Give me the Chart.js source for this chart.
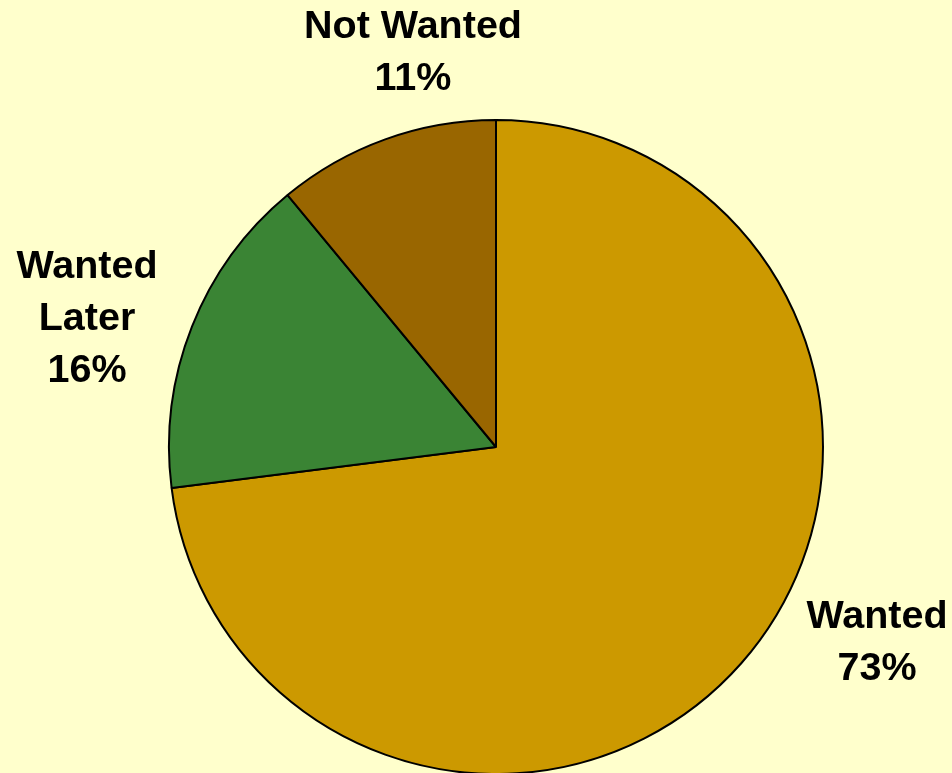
<!DOCTYPE html>
<html>
<head>
<meta charset="utf-8">
<script src="https://cdn.jsdelivr.net/npm/chart.js@4.4.1/dist/chart.umd.min.js"></script>
<style>
  html, body { margin: 0; padding: 0; background: #FFFFCC; }
  #wrap { width: 952px; height: 773px; position: relative; }
</style>
</head>
<body>
<div id="wrap"><canvas id="pieChart"></canvas></div>
<script>
  // dados da pizza (em %)
  const categories = ['Wanted', 'Wanted Later', 'Not Wanted'];
  const labelLines = [['Wanted'], ['Wanted', 'Later'], ['Not Wanted']];
  const shares = [73, 16, 11];
  const sliceColors = ['#CC9900', '#3A8434', '#996600'];

  // onde fica cada rotulo, relativo ao centro da pizza
  const labelOffsets = [[381, 193], [-409, -131], [-83, -397]];

  const outsideLabels = {
    id: 'outsideLabels',
    afterDraw(chart) {
      const ctx = chart.ctx;
      const meta = chart.getDatasetMeta(0);
      const size = 39.5, lineH = 52;
      ctx.save();
      ctx.font = 'bold ' + size + 'px "Liberation Sans", Arial, sans-serif';
      ctx.fillStyle = '#000';
      ctx.textAlign = 'center';
      ctx.textBaseline = 'alphabetic';
      meta.data.forEach((arc, i) => {
        const lines = labelLines[i].concat([shares[i] + '%']);
        const cx = arc.x + labelOffsets[i][0];
        const cy = arc.y + labelOffsets[i][1];
        const top = cy - (lines.length - 1) * lineH / 2;
        lines.forEach((txt, k) => {
          ctx.fillText(txt, cx, top + k * lineH + size * 0.358);
        });
      });
      ctx.restore();
    }
  };

  const ctx = document.getElementById('pieChart').getContext('2d');
  new Chart(ctx, {
    type: 'pie',
    data: {
      labels: categories,
      datasets: [{
        data: shares,
        backgroundColor: sliceColors,
        borderColor: '#000',
        borderWidth: 2,
        borderAlign: 'center',
        radius: 327,
        clip: false
      }]
    },
    options: {
      responsive: true,
      maintainAspectRatio: false,
      animation: false,
      layout: { padding: { left: 40, right: 0, top: 121, bottom: 0 } },
      plugins: {
        legend: { display: false },
        tooltip: { enabled: false }
      }
    },
    plugins: [outsideLabels]
  });
</script>
</body>
</html>
